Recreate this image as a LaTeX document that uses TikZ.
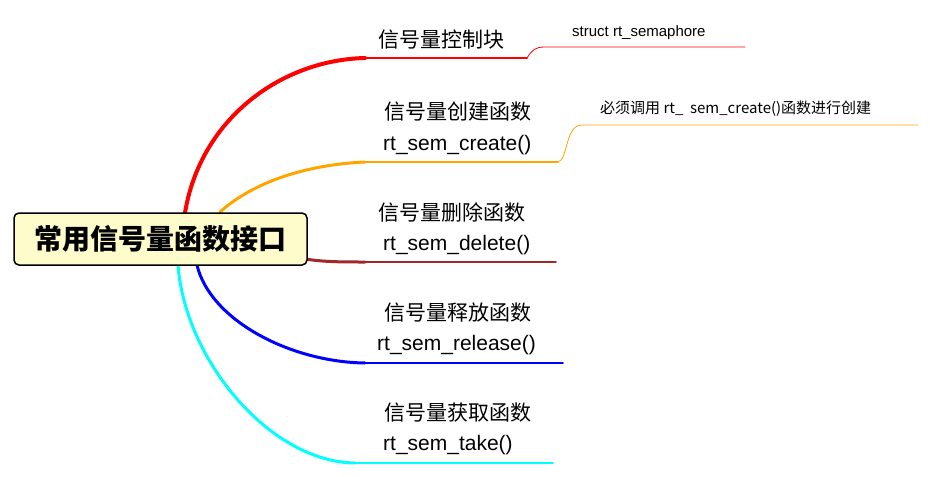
\documentclass[tikz,border=0pt]{standalone}
\usepackage{fontspec}
\setmainfont{Liberation Sans}
\newfontfamily\cjk{Noto Sans CJK SC}
\definecolor{cRed}{RGB}{255,0,0}
\definecolor{cOrange}{RGB}{255,165,0}
\definecolor{cBrown}{RGB}{160,40,40}
\definecolor{cBlue}{RGB}{0,0,255}
\definecolor{cCyan}{RGB}{0,255,255}
\begin{document}
\begin{tikzpicture}[x=1pt,y=-1pt,
  lbl/.style={font=\cjk\fontsize{21}{24}\selectfont,anchor=west,inner sep=0},
  fn/.style={font=\fontsize{21}{24}\selectfont,anchor=west,inner sep=0},
  note/.style={font=\fontsize{15}{18}\selectfont,anchor=west,inner sep=0},
  br/.style={line width=#1,line cap=round}]
\useasboundingbox (0,0) rectangle (930,477);
% branches
\draw[cRed,br=4pt] (185,213) .. controls (200,120) and (280,60) .. (365,58);
\draw[cRed,br=1.5pt] (365,58) -- (527,58);
\draw[cRed,br=0.8pt] (527,58) .. controls (532,50) and (535,47) .. (545,47) -- (745,47);
\draw[cOrange,br=3pt] (220,212) .. controls (250,185) and (300,165) .. (365,162);
\draw[cOrange,br=1.5pt] (365,162) -- (558,162);
\draw[cOrange,br=0.8pt] (558,162) .. controls (568,160) and (565,125) .. (582,125) -- (918,125);
\draw[cBrown,br=3pt] (300,258) .. controls (320,262) and (340,262) .. (365,262);
\draw[cBrown,br=1.5pt] (365,262) -- (556,262);
\draw[cBlue,br=3pt] (197,265) .. controls (210,320) and (290,362) .. (365,363);
\draw[cBlue,br=1.5pt] (365,363) -- (563,363);
\draw[cCyan,br=3pt] (178,265) .. controls (185,360) and (270,462) .. (355,463);
\draw[cCyan,br=1.5pt] (355,463) -- (553,463);
% root
\node[draw,line width=1.5pt,rounded corners=5pt,fill=yellow!20,minimum width=293pt,minimum height=52pt,
  font=\cjk\bfseries\fontsize{28}{32}\selectfont] (root) at (160.5,239) {常用信号量函数接口};
% labels
\node[lbl] (a) at (378,40) {信号量控制块};
\node[note] (an) at (572,33) {struct rt\_semaphore};
\node[lbl] (b) at (384,112) {信号量创建函数};
\node[fn] (bf) at (383,145) {rt\_sem\_create()};
\node[note,font=\cjk\fontsize{15}{18}\selectfont] (bn) at (600,109) {必须调用 rt\_\ \ sem\_create()函数进行创建};
\node[lbl] (c) at (378,212) {信号量删除函数};
\node[fn] (cf) at (383,245) {rt\_sem\_delete()};
\node[lbl] (d) at (384,313) {信号量释放函数};
\node[fn] (df) at (377,345) {rt\_sem\_release()};
\node[lbl] (e) at (384,413) {信号量获取函数};
\node[fn] (ef) at (383,445) {rt\_sem\_take()};
\end{tikzpicture}
\end{document}
